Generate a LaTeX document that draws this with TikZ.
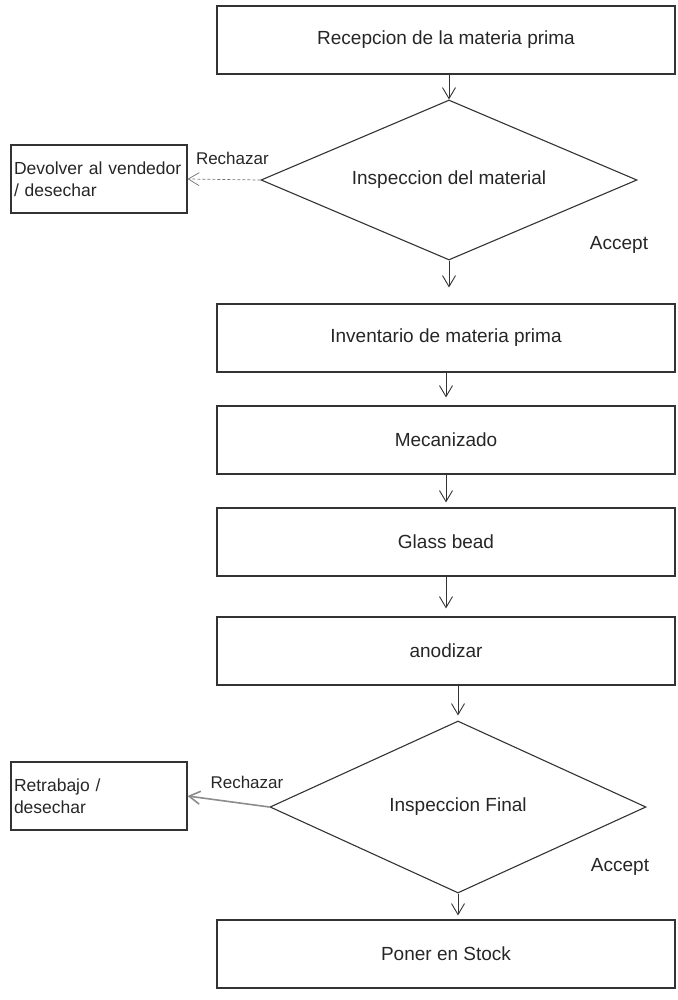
\documentclass[tikz,border=0pt]{standalone}
\usepackage{fontspec}
\setmainfont{Liberation Sans}
\usetikzlibrary{shapes.geometric, arrows.meta}

\begin{document}
\begin{tikzpicture}[x=1pt, y=-1pt,
  proc/.style={draw=black!80, line width=1.1pt, minimum width=458pt, minimum height=68pt,
    inner sep=0pt, font=\fontsize{19}{22}\selectfont, text=black!85},
  decide/.style={diamond, draw=black!80, line width=1.1pt, minimum width=376pt,
    inner sep=0pt, font=\fontsize{19}{22}\selectfont, text=black!85},
  rejbox/.style={draw=black!80, line width=1.1pt, minimum height=68pt, text width=170pt,
    inner xsep=3pt, align=left, font=\fontsize{17.5}{22}\selectfont, text=black!85},
  flow/.style={-{Straight Barb[length=11pt,width=13pt]}, line width=0.9pt, black!80},
  lbl/.style={font=\fontsize{17}{20}\selectfont, text=black!85}
]
  \useasboundingbox (0,0) rectangle (677,1000);
  % pasos del proceso
  \node[proc] (rec)   at (446,40)  {Recepcion de la materia prima};
  \node[decide, minimum height=160pt, aspect=2.35] (insp1) at (449,180) {Inspeccion del material};
  \node[proc] (inv)   at (446,338) {Inventario de materia prima};
  \node[proc] (mec)   at (446,440) {Mecanizado};
  \node[proc] (glass) at (446,542) {Glass bead};
  \node[proc] (anod)  at (446,651) {anodizar};
  \node[decide, minimum height=172pt, aspect=2.19] (insp2) at (458,807) {Inspeccion Final};
  \node[proc] (stock) at (446,954) {Poner en Stock};
  % rechazos
  \node[rejbox] (devol) at (99,179) {Devolver al vendedor\\/ desechar};
  \node[rejbox] (retra) at (99,796) {Retrabajo /\\desechar};
  % flechas principales
  \draw[flow] (insp1.north |- rec.south) -- (insp1.north);
  \draw[flow, shorten >=16pt] (insp1.south) -- (insp1.south |- inv.north);
  \foreach \a/\b/\g in {inv/mec/8, mec/glass/5, glass/anod/8}
    \draw[flow, shorten >=\g pt] (\a.south) -- (\b.north);
  \draw[flow, shorten >=5pt] (insp2.north |- anod.south) -- (insp2.north);
  \draw[flow, shorten >=4pt] (insp2.south) -- (insp2.south |- stock.north);
  % flechas de rechazo
  \draw[flow, black!55, line width=0.7pt, densely dashed] (insp1.west) -- (devol.east)
    node[pos=0.0, anchor=south east, lbl, xshift=12pt, yshift=12pt] (rech1) {Rechazar};
  \draw[flow, black!45, line width=1.6pt] (insp2.west) -- (retra.east)
    node[pos=0.0, anchor=south east, lbl, xshift=18pt, yshift=14pt] (rech2) {Rechazar};
  % etiquetas de aceptar
  \node[lbl, font=\fontsize{19}{22}\selectfont] (acc1) at (619,245) {Accept};
  \node[lbl, font=\fontsize{19}{22}\selectfont] (acc2) at (620,867) {Accept};
\end{tikzpicture}
\end{document}
